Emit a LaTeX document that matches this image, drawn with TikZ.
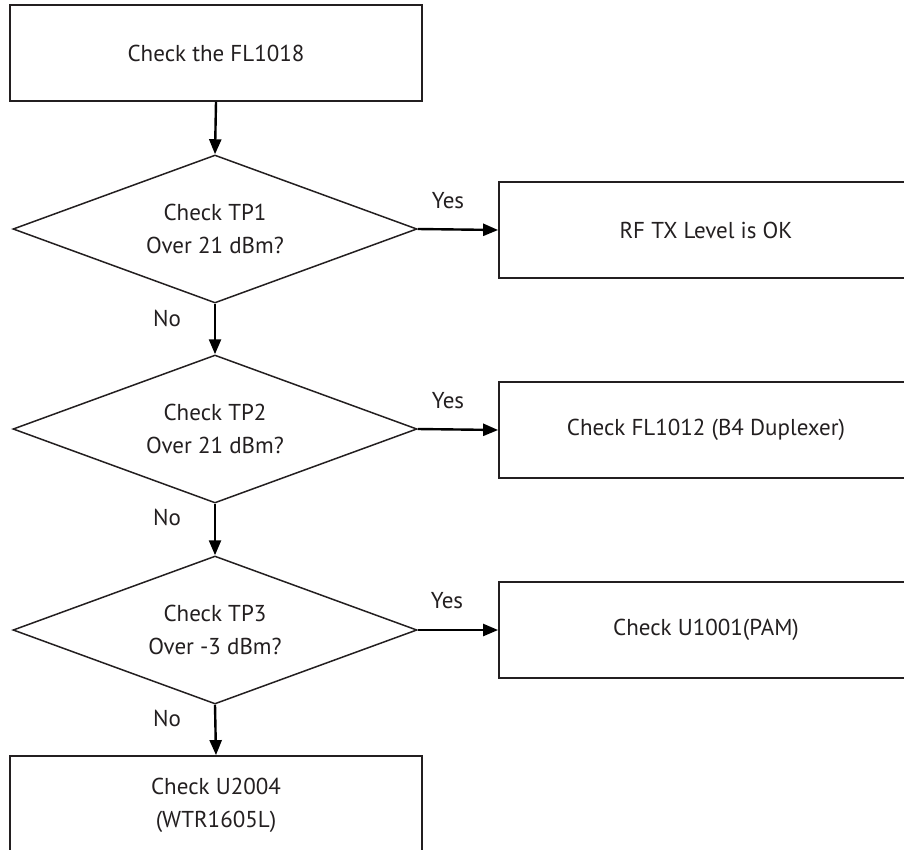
\documentclass[tikz,border=0pt]{standalone}
\usepackage{fontspec}
\setmainfont{PT Sans}
\usetikzlibrary{shapes.geometric,arrows.meta}
\definecolor{ink}{HTML}{231F20}
\begin{document}
\begin{tikzpicture}[x=1pt,y=-1pt,
  every node/.style={font=\fontsize{23}{33}\selectfont, text=ink, align=center},
  procbox/.style={draw=ink, line width=1.8pt, minimum width=412pt, minimum height=96pt, inner sep=0pt},
  decision/.style={draw=ink, line width=1.5pt, shape=diamond, shape aspect=2.73, minimum width=404pt, minimum height=148pt, inner sep=0pt},
  flow/.style={draw=black, line width=2.4pt, -{Triangle[length=15pt,width=12pt]}},
  lbl/.style={inner sep=0pt}]
\useasboundingbox (0,0) rectangle (904,849);
\clip (0,0) rectangle (904,849);
\node[procbox] (start) at (216,53) {Check the FL1018};
\node[decision] (d1) at (215,229) {Check TP1\\Over 21 dBm?};
\node[decision] (d2) at (215,429) {Check TP2\\Over 21 dBm?};
\node[decision] (d3) at (215,630) {Check TP3\\Over -3 dBm?};
\node[procbox, minimum width=414pt] (r1) at (706,230) {RF TX Level is OK};
\node[procbox, minimum width=414pt] (r2) at (706,430) {Check FL1012 (B4 Duplexer)};
\node[procbox, minimum width=414pt] (r3) at (706,630) {Check U1001(PAM)};
\node[procbox, minimum height=98pt] (end) at (216,805) {Check U2004\\(WTR1605L)};
\draw[flow] (start.south) -- (d1.north);
\draw[flow] (d1.south) -- (d2.north);
\draw[flow] (d2.south) -- (d3.north);
\draw[flow] (d3.south) -- (end.north);
\draw[flow] (d1.east) -- (r1.west);
\draw[flow] (d2.east) -- (r2.west);
\draw[flow] (d3.east) -- (r3.west);
\node[lbl] (y1) at (448,201) {Yes};
\node[lbl] (y2) at (448,401) {Yes};
\node[lbl] (y3) at (447,601) {Yes};
\node[lbl] (n1) at (167,318) {No};
\node[lbl] (n2) at (167,517) {No};
\node[lbl] (n3) at (167,718) {No};
\end{tikzpicture}
\end{document}
